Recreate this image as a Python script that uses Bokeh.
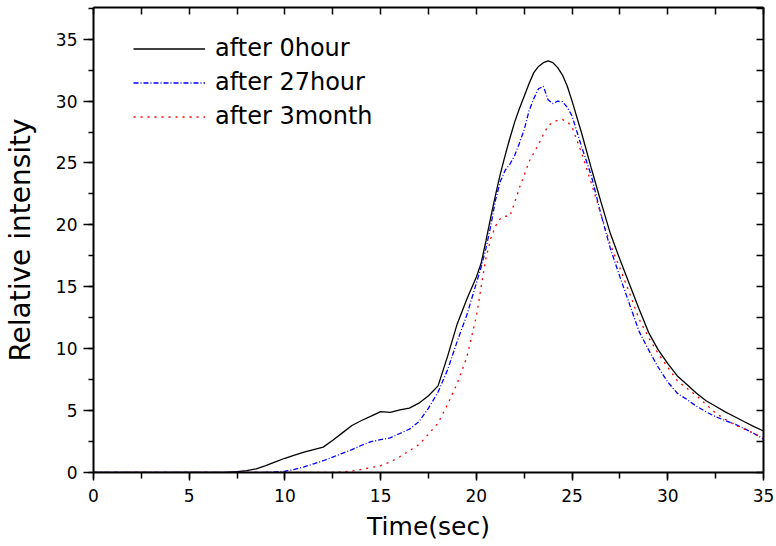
from bokeh.plotting import figure
from bokeh.models import Range1d, LinearAxis, SingleIntervalTicker, Legend, LegendItem
from bokeh.embed import file_html
from bokeh.resources import INLINE

time = [0, 0.5, 1, 1.5, 2, 2.5, 3, 3.5, 4, 4.5, 5, 5.5, 6, 6.5, 7, 7.5, 8, 8.5, 9, 9.5,
        10, 10.5, 11, 11.5, 12, 12.5, 13, 13.5, 14, 14.5, 15, 15.5, 16, 16.5, 17, 17.5,
        18, 18.5, 19, 19.5, 20,
        20.25, 20.5, 20.75, 21, 21.25, 21.5, 21.75, 22, 22.25, 22.5, 22.75, 23, 23.25,
        23.5, 23.75, 24, 24.25, 24.5, 24.75, 25,
        25.5, 26, 26.5, 27, 27.5, 28, 28.5, 29, 29.5, 30, 30.5, 31, 31.5, 32, 32.5, 33,
        33.5, 34, 34.5, 35]

after_0hour = [0, 0, 0, 0, 0, 0, 0, 0, 0, 0, 0, 0, 0, 0.01, 0.02, 0.06, 0.15, 0.3, 0.55, 0.85,
               1.15, 1.4, 1.65, 1.85, 2.05, 2.6, 3.2, 3.8, 4.2, 4.55, 4.92, 4.85, 5.05, 5.2, 5.6, 6.2,
               7.0, 9.4, 12.0, 14.0, 15.8,
               16.9, 18.7, 20.6, 22.4, 24.1, 25.6, 27.0, 28.3, 29.4, 30.4, 31.4, 32.3, 32.8,
               33.1, 33.25, 33.1, 32.7, 32.1, 31.2, 30.0,
               27.4, 24.6, 21.9, 19.3, 17.2, 15.2, 13.2, 11.3, 9.9, 8.8, 7.8, 7.1, 6.4, 5.8, 5.35, 4.9,
               4.5, 4.1, 3.7, 3.35]

after_27hour = [0, 0, 0, 0, 0, 0, 0, 0, 0, 0, 0, 0, 0, 0, 0, 0, 0, 0, 0.02, 0.05,
                0.1, 0.25, 0.45, 0.7, 0.95, 1.25, 1.55, 1.85, 2.2, 2.5, 2.65, 2.8, 3.15, 3.5, 4.1, 5.2,
                6.5, 8.3, 10.6, 12.7, 15.3,
                16.6, 18.1, 19.9, 22.0, 23.5, 24.4, 24.9, 25.6, 26.6, 27.7, 29.2, 30.2, 31.0,
                31.2, 30.1, 29.8, 30.0, 29.95, 29.5, 28.8,
                26.3, 24.0, 20.9, 18.1, 15.8, 13.6, 11.4, 9.9, 8.5, 7.3, 6.4, 5.9, 5.35, 4.9, 4.5, 4.2,
                3.9, 3.55, 3.15, 2.7]

after_3month = [0, 0, 0, 0, 0, 0, 0, 0, 0, 0, 0, 0, 0, 0, 0, 0, 0, 0, 0, 0,
                0, 0, 0, 0, 0, 0.02, 0.05, 0.12, 0.25, 0.4, 0.55, 0.85, 1.27, 1.75, 2.25, 3.1,
                4.0, 5.5, 7.2, 9.3, 12.6,
                15.0, 17.3, 18.9, 19.9, 20.5, 20.7, 20.7, 21.8, 23.0, 24.0, 25.1, 25.8, 26.5,
                27.3, 28.0, 28.3, 28.45, 28.5, 28.35, 27.9,
                25.8, 23.4, 20.9, 18.4, 16.5, 14.5, 12.4, 10.9, 9.6, 8.5, 7.4, 6.8, 6.2, 5.5, 4.8, 4.3,
                3.85, 3.5, 3.15, 2.8]

labels = ["after 0hour", "after 27hour", "after 3month"]

FONT = "DejaVu Sans"

p = figure(width=776, height=546, output_backend="svg", toolbar_location=None,
           x_range=Range1d(0, 35), y_range=Range1d(0, 37.56),
           min_border_left=93, min_border_right=13, min_border_top=7, min_border_bottom=74)
p.xgrid.visible = False
p.ygrid.visible = False
p.outline_line_color = None
p.background_fill_color = "white"
p.border_fill_color = "white"

xa = p.xaxis[0]
xa.ticker = SingleIntervalTicker(interval=5, num_minor_ticks=2)
xa.axis_label = "Time(sec)"
ya = p.yaxis[0]
ya.ticker = SingleIntervalTicker(interval=5, num_minor_ticks=2)
ya.axis_label = "Relative intensity"
for ax in (xa, ya):
    ax.axis_line_width = 2
    ax.axis_line_color = "black"
    ax.major_tick_line_color = "black"
    ax.minor_tick_line_color = "black"
    ax.major_tick_line_width = 1.5
    ax.minor_tick_line_width = 1.5
    ax.major_tick_in = 0
    ax.minor_tick_in = 0
    ax.major_label_text_font = FONT
    ax.major_label_text_font_size = "17px"
    ax.major_label_text_color = "black"
    ax.axis_label_text_font = FONT
    ax.axis_label_text_font_style = "normal"
    ax.axis_label_text_color = "black"
xa.major_tick_out = 8
xa.minor_tick_out = 6
xa.major_label_standoff = 8
xa.axis_label_text_font_size = "25px"
xa.axis_label_standoff = 7
ya.major_tick_out = 10
ya.minor_tick_out = 5
ya.major_label_standoff = 6
ya.axis_label_text_font_size = "28px"
ya.axis_label_standoff = 16

# top and right frame axes with inward ticks and no labels
for loc in ("above", "right"):
    ax = LinearAxis(ticker=SingleIntervalTicker(interval=2.5, num_minor_ticks=0),
                    axis_line_width=2, axis_line_color="black",
                    major_tick_in=7, major_tick_out=0,
                    major_tick_line_width=1.5, major_tick_line_color="black",
                    minor_tick_line_color=None,
                    major_label_text_color=None,
                    major_label_text_font_size="1px", major_label_standoff=0)
    p.add_layout(ax, loc)

r0 = p.line(time, after_0hour, line_color="black", line_width=1.3)
r1 = p.line(time, after_27hour, line_color="#0000FF", line_width=1.3, line_dash="5 2 1 2")
r2 = p.line(time, after_3month, line_color="#FF0000", line_width=1.3, line_dash="2 5")

legend = Legend(items=[LegendItem(label=labels[0], renderers=[r0]),
                       LegendItem(label=labels[1], renderers=[r1]),
                       LegendItem(label=labels[2], renderers=[r2])],
                location=(40, 342), border_line_color=None, background_fill_alpha=0,
                label_text_font=FONT, label_text_font_size="24px", label_text_color="black",
                glyph_width=72, glyph_height=25, label_height=25, label_standoff=10,
                spacing=6, padding=0, margin=0)
p.add_layout(legend)

open("out.html", "w").write(file_html(p, INLINE))
